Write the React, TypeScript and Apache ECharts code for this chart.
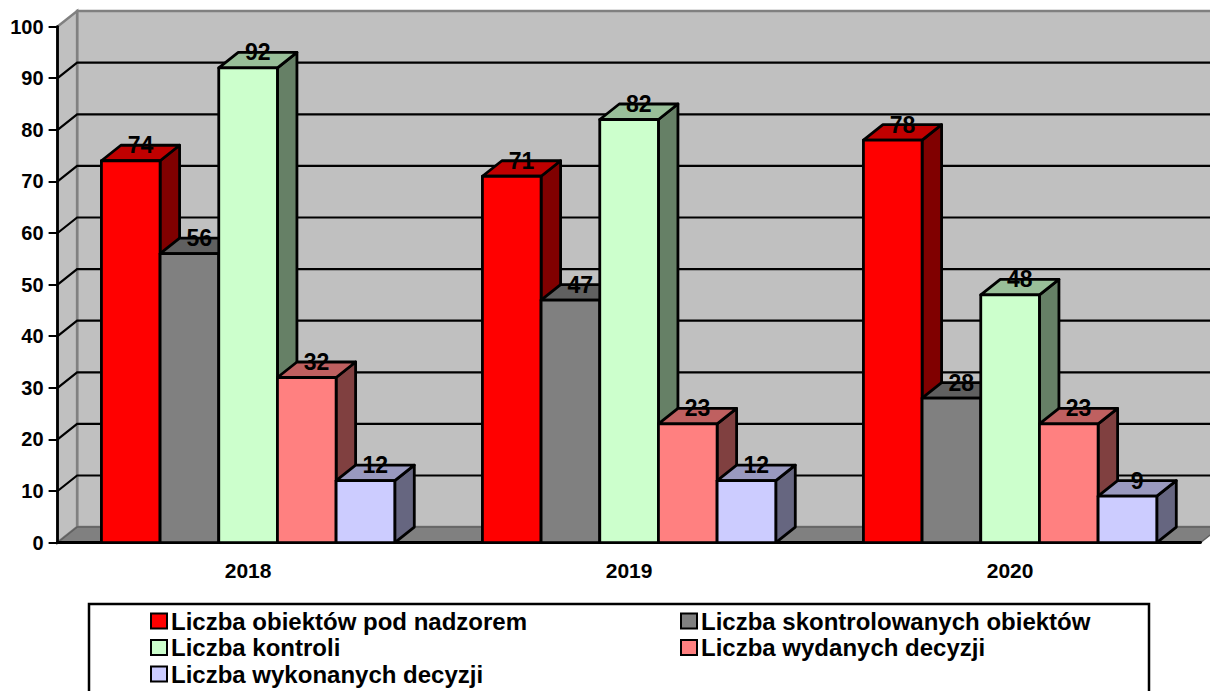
import React, { useEffect, useRef } from "react";
import * as echarts from "echarts";

const categories = ["2018", "2019", "2020"];
const seriesNames = [
  "Liczba obiektów pod nadzorem",
  "Liczba skontrolowanych obiektów",
  "Liczba kontroli",
  "Liczba wydanych decyzji",
  "Liczba wykonanych decyzji",
];
const obiekty = [74, 71, 78];
const skontrolowane = [56, 47, 28];
const kontrole = [92, 82, 48];
const wydane = [32, 23, 23];
const wykonane = [12, 12, 9];
const seriesValues = [obiekty, skontrolowane, kontrole, wydane, wykonane];
const frontColors = ["#ff0000", "#808080", "#ccffcc", "#ff8080", "#ccccff"];
const topColors = ["#c00000", "#606060", "#99bf99", "#bf6060", "#9999bf"];
const sideColors = ["#800000", "#404040", "#668066", "#804040", "#666680"];
const gridTicks = [10, 20, 30, 40, 50, 60, 70, 80, 90];

const FONT = '"Liberation Sans", Arial, sans-serif';
const DX = 19.5;
const DY = 15.5;
const BAR_RATIO = 0.154;

function backdrop(_params: any, api: any) {
  const [x0, y0] = api.coord([0, 0]);
  const [, yTop] = api.coord([0, 100]);
  const band = api.size([1, 0])[0];
  const x1 = x0 - band / 2;
  const x2 = x1 + band * categories.length;
  const bx1 = x1 + DX;
  const bx2 = x2 + DX;
  const children: any[] = [
    {
      type: "polygon",
      shape: { points: [[bx1, yTop - DY], [bx2, yTop - DY], [bx2, y0 - DY], [bx1, y0 - DY]] },
      style: { fill: "#c0c0c0", stroke: "#808080", lineWidth: 2.5 },
    },
    {
      type: "polygon",
      shape: { points: [[x1, yTop], [bx1, yTop - DY], [bx1, y0 - DY], [x1, y0]] },
      style: { fill: "#c0c0c0", stroke: "#808080", lineWidth: 2.5 },
    },
    {
      type: "polygon",
      shape: { points: [[x1, y0], [bx1, y0 - DY], [bx2, y0 - DY], [x2, y0]] },
      style: { fill: "#808080", stroke: "#606060", lineWidth: 1.5 },
    },
  ];
  gridTicks.forEach((t) => {
    const y = api.coord([0, t])[1];
    children.push({
      type: "polyline",
      shape: { points: [[x1, y], [bx1, y - DY], [bx2, y - DY]] },
      style: { fill: "none", stroke: "#000", lineWidth: 2.2 },
    });
  });
  return { type: "group", children };
}

function bar3d(s: number) {
  return (_params: any, api: any) => {
    const i = api.value(0);
    const v = api.value(1);
    const [cx, y0] = api.coord([i, 0]);
    const yv = api.coord([i, v])[1];
    const band = api.size([1, 0])[0];
    const w = band * BAR_RATIO;
    const l = cx - (w * seriesValues.length) / 2 + s * w;
    const r = l + w;
    const line = { stroke: "#000", lineWidth: 2.8, lineJoin: "round" };
    return {
      type: "group",
      children: [
        {
          type: "polygon",
          shape: { points: [[r, yv], [r + DX, yv - DY], [r + DX, y0 - DY], [r, y0]] },
          style: { fill: sideColors[s], ...line },
        },
        {
          type: "polygon",
          shape: { points: [[l, yv], [l + DX, yv - DY], [r + DX, yv - DY], [r, yv]] },
          style: { fill: topColors[s], ...line },
        },
        {
          type: "polygon",
          shape: { points: [[l, yv], [r, yv], [r, y0], [l, y0]] },
          style: { fill: frontColors[s], ...line },
        },
        {
          type: "text",
          z2: 100,
          style: {
            text: String(v),
            x: (l + r + DX) / 2,
            y: yv - DY,
            align: "center",
            verticalAlign: "middle",
            fill: "#000",
            font: `bold 23px ${FONT}`,
          },
        },
      ],
    };
  };
}

function legendAt(left: number, names: string[]) {
  return {
    orient: "vertical" as const,
    left,
    top: 609,
    padding: 0,
    itemGap: 2.5,
    itemWidth: 16,
    itemHeight: 15,
    icon: "rect",
    data: names,
    selectedMode: false,
    itemStyle: { borderColor: "#000", borderWidth: 2 },
    textStyle: {
      fontFamily: FONT,
      fontWeight: "bold" as const,
      fontSize: 24,
      lineHeight: 24,
      color: "#000",
      padding: [0, 0, 0, -1],
    },
  };
}

export default function App() {
  const ref = useRef<HTMLDivElement>(null);
  useEffect(() => {
    const chart = echarts.init(ref.current!, undefined, { renderer: "svg" });
    chart.setOption({
      animation: false,
      backgroundColor: "#fff",
      grid: { left: 57.6, top: 26.6, width: 1143, height: 516 },
      xAxis: {
        type: "category",
        data: categories,
        z: 1,
        axisLine: { lineStyle: { color: "#000", width: 2.8 } },
        axisTick: { length: 8, lineStyle: { color: "#000", width: 2 } },
        axisLabel: { margin: 17, fontFamily: FONT, fontWeight: "bold", fontSize: 21, color: "#000" },
      },
      yAxis: {
        type: "value",
        min: 0,
        max: 100,
        interval: 10,
        z: 1,
        splitLine: { show: false },
        axisLine: { show: true, lineStyle: { color: "#000", width: 2.8 } },
        axisTick: { show: true, length: 9, lineStyle: { color: "#000", width: 2 } },
        axisLabel: { margin: 14, fontFamily: FONT, fontWeight: "bold", fontSize: 20, color: "#000" },
      },
      legend: [
        legendAt(150, [seriesNames[0], seriesNames[2], seriesNames[4]]),
        legendAt(680, [seriesNames[1], seriesNames[3]]),
      ],
      graphic: [
        {
          type: "rect",
          shape: { x: 89, y: 604, width: 1060, height: 110 },
          style: { fill: "none", stroke: "#000", lineWidth: 2.5 },
        },
      ],
      series: [
        {
          type: "custom",
          z: 0,
          silent: true,
          clip: false,
          renderItem: backdrop,
          data: [[0, 0]],
          encode: { x: 0, y: 1 },
        },
        ...seriesNames.map((name, s) => ({
          type: "custom",
          name,
          z: 2,
          clip: false,
          itemStyle: { color: frontColors[s] },
          renderItem: bar3d(s),
          data: seriesValues[s].map((v, i) => [i, v]),
          encode: { x: 0, y: 1 },
        })),
      ],
    });
    return () => chart.dispose();
  }, []);
  return (
    <div
      ref={ref}
      style={{ position: "fixed", left: 0, top: 0, width: 1210, height: 691, background: "#fff" }}
    />
  );
}
